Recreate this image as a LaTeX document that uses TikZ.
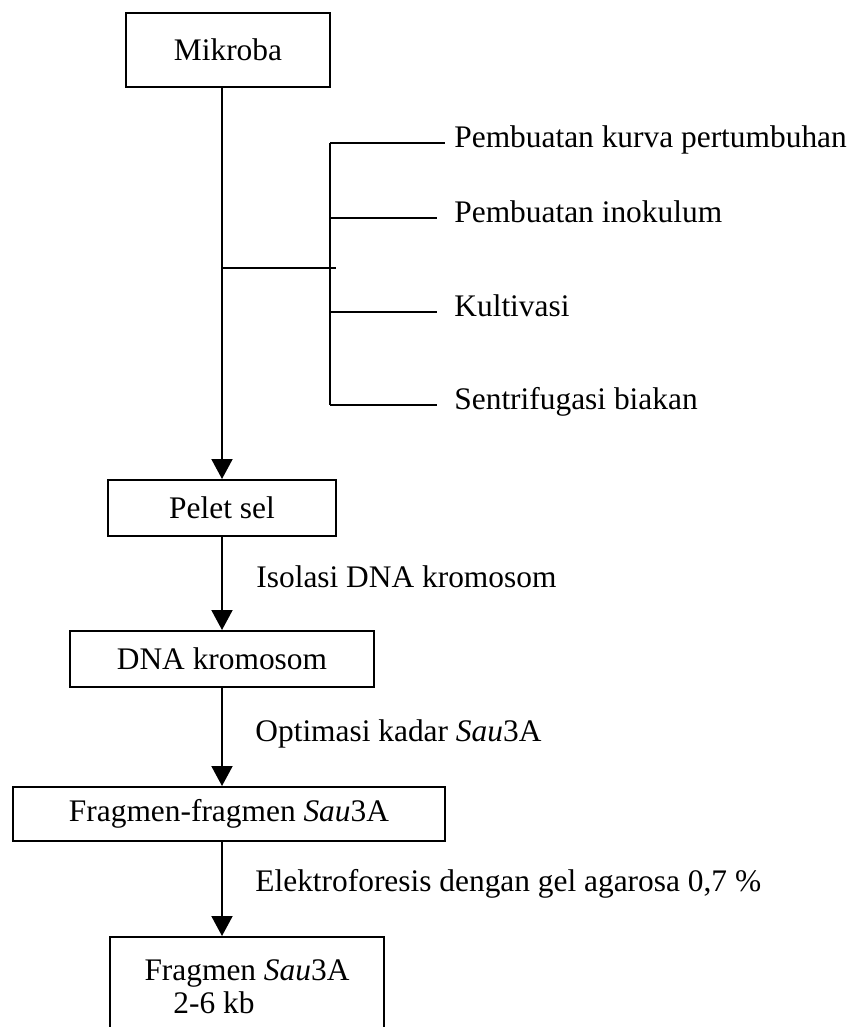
\documentclass[tikz,border=0pt]{standalone}
\usepackage{fontspec}
\setmainfont{Liberation Serif}
\usepackage{tikz}
\usetikzlibrary{arrows.meta, positioning, calc}

\begin{document}
\begin{tikzpicture}[
  x=0.5pt, y=-0.5pt,
  font=\fontsize{15.7}{16.5}\selectfont,
  stepbox/.style={draw, line width=1pt, align=center, inner sep=0pt},
  branch/.style={anchor=west, inner xsep=8.5pt, inner ysep=0pt, text height=0.68em, text depth=0.22em},
  steplabel/.style={anchor=west, inner sep=0pt, text height=0.68em, text depth=0.22em},
  arrow/.style={-{Triangle[width=10.5pt, length=10pt]}, line width=1pt},
  line/.style={line width=1pt}
]

\fill[white] (0,0) rectangle (853,1027);
\useasboundingbox (0,0) rectangle (853,1027);

\node[stepbox, minimum width=102pt, minimum height=37pt] (mikroba) at (228,50)  {Mikroba};
\node[stepbox, minimum width=114pt, minimum height=28pt] (pelet)   at (222,508) {Pelet sel};
\node[stepbox, minimum width=152pt, minimum height=28pt] (dna)     at (222,659) {DNA kromosom};
\node[stepbox, minimum width=216pt, minimum height=27pt] (frag)    at (229,814) {Fragmen-fragmen \textit{Sau}3A};
\node[stepbox, minimum width=137pt, minimum height=50pt] (hasil)   at (247,987) {Fragmen \textit{Sau}3A\\2-6 kb\hspace*{33pt}};

% cabang kultur
\coordinate (hub)  at (222,268);
\coordinate (btop) at (330,143);
\coordinate (bbot) at (330,405);

\node[branch, inner xsep=4.5pt] (kurva)   at (445,143) {Pembuatan kurva pertumbuhan};
\node[branch]                   (inok)    at (437,218) {Pembuatan inokulum};
\node[branch]                   (kultiv)  at (437,312) {Kultivasi};
\node[branch]                   (sentri)  at (437,405) {Sentrifugasi biakan};

\node[steplabel] (isolasi)  at (256,583) {Isolasi DNA kromosom};
\node[steplabel] (optimasi) at (255,737) {Optimasi kadar \textit{Sau}3A};
\node[steplabel] (elektro)  at (255,887) {Elektroforesis dengan gel agarosa 0,7 \%};

\draw[arrow] (mikroba.south -| pelet.north) -- (pelet.north);
\draw[line] (hub) -- ([xshift=3pt]hub -| btop);
\draw[line] (btop) -- (bbot);
\draw[line] (btop) -- (kurva.west);
\draw[line] (btop |- inok.west) -- (inok.west);
\draw[line] (btop |- kultiv.west) -- (kultiv.west);
\draw[line] (bbot) -- (sentri.west);

\draw[arrow] (pelet.south) -- (dna.north);
\draw[arrow] (dna.south) -- (dna.south |- frag.north);
\draw[arrow] (frag.south -| dna.south) -- (hasil.north -| dna.south);

\end{tikzpicture}
\end{document}
